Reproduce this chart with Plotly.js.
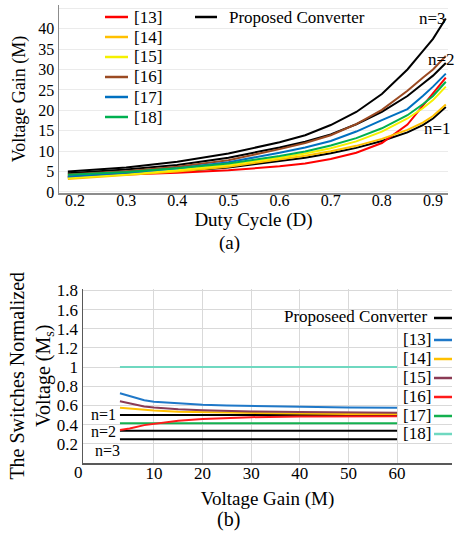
<!DOCTYPE html>
<html>
<head>
<meta charset="utf-8">
<script src="https://cdn.plot.ly/plotly-3.0.1.min.js"></script>
<style>html,body{margin:0;padding:0;background:#fff;}#chart{width:460px;height:543px;}</style>
</head>
<body>
<div id="chart"></div>
<script>
// ---------- (a) Voltage gain vs duty cycle ----------
const duty = [0.186, 0.3, 0.4, 0.5, 0.6, 0.65, 0.7, 0.75, 0.8, 0.85, 0.88, 0.9, 0.925];
const gainN3 = [5.0, 6.0, 7.4, 9.4, 12.2, 13.9, 16.4, 19.6, 24.0, 30.0, 34.5, 37.5, 42.5];
const gainN2 = [4.6, 5.5, 6.6, 8.4, 10.9, 12.3, 14.1, 16.6, 19.6, 23.5, 26.5, 28.5, 31.6];
const gainN1 = [3.6, 4.3, 5.0, 6.0, 7.5, 8.4, 9.5, 10.8, 12.5, 14.6, 16.4, 18.0, 20.8];
const gain13 = [3.8, 4.2, 4.7, 5.3, 6.3, 7.0, 8.1, 9.6, 12.0, 16.5, 21.0, 24.0, 28.0];
const gain14 = [3.2, 4.1, 5.0, 6.2, 8.0, 8.9, 10.0, 11.3, 13.0, 15.2, 17.0, 18.6, 21.4];
const gain15 = [3.4, 4.3, 5.3, 6.6, 8.4, 9.4, 10.7, 12.4, 14.8, 18.0, 20.5, 22.5, 25.8];
const gain16 = [4.3, 5.1, 6.2, 7.8, 10.5, 12.0, 13.9, 16.6, 20.1, 24.8, 28.0, 30.0, 33.3];
const gain17 = [3.8, 4.7, 5.8, 7.3, 9.6, 10.9, 12.5, 14.8, 17.6, 20.3, 23.5, 25.8, 29.0];
const gain18 = [4.2, 4.9, 5.8, 7.0, 8.8, 9.9, 11.4, 13.2, 15.6, 18.8, 21.5, 23.5, 27.0];
const dutyTicks = [0.2, 0.3, 0.4, 0.5, 0.6, 0.7, 0.8, 0.9];
const dutyTickText = ['0.2', '0.3', '0.4', '0.5', '0.6', '0.7', '0.8', '0.9'];
const gainTicks = [0, 5, 10, 15, 20, 25, 30, 35, 40, 45];
const gainTickText = ['0', '5', '10', '15', '20', '25', '30', '35', '40', '90'];

// ---------- (b) Normalized switch voltage vs voltage gain ----------
const gainM = [3, 5, 8, 10, 15, 20, 25, 30, 40, 50, 60];
const ms13 = [0.727, 0.70, 0.655, 0.64, 0.62, 0.608, 0.60, 0.595, 0.588, 0.58, 0.577];
const ms14 = [0.577, 0.567, 0.553, 0.547, 0.535, 0.53, 0.525, 0.52, 0.515, 0.512, 0.51];
const ms15 = [0.645, 0.62, 0.59, 0.578, 0.56, 0.55, 0.542, 0.537, 0.532, 0.528, 0.525];
const ms16 = [0.344, 0.36, 0.395, 0.41, 0.44, 0.458, 0.47, 0.478, 0.484, 0.487, 0.488];
const ms17 = [0.414, 0.414, 0.414, 0.414, 0.414, 0.414, 0.414, 0.414, 0.414, 0.414, 0.414];
const ms18 = [1, 1, 1, 1, 1, 1, 1, 1, 1, 1, 1];
const msN1 = [0.5, 0.5, 0.5, 0.5, 0.5, 0.5, 0.5, 0.5, 0.5, 0.5, 0.5];
const msN2 = [0.337, 0.337, 0.337, 0.337, 0.337, 0.337, 0.337, 0.337, 0.337, 0.337, 0.337];
const msN3 = [0.247, 0.247, 0.247, 0.247, 0.247, 0.247, 0.247, 0.247, 0.247, 0.247, 0.247];
const mTicks = [10, 20, 30, 40, 50, 60];
const msTicks = [0.2, 0.4, 0.6, 0.8, 1.0, 1.2, 1.4, 1.6, 1.8];
const msTickText = ['0.2', '0.4', '0.6', '0.8', '1', '1.2', '1.4', '1.6', '1.8'];

const W = 460, H = 543;
const px = x => x / W;
const py = y => 1 - y / H;
const serif = 'Liberation Serif';
const F = (size) => ({family: serif, size: size, color: '#000'});

const C = {r13:'#ff0000', o14:'#ffc000', y15:'#f5f000', b16:'#9b4a22', bl17:'#0070c0', g18:'#00b050'};
const CB = {c13:'#1f78c8', c14:'#ffc000', c15:'#8b3b55', c16:'#ff1a1a', c17:'#13b04f', c18:'#6fd8c0'};

function line(x, y, color, name, opts) {
  return Object.assign({type:'scatter', mode:'lines', x:x, y:y, name:name,
    line:{color:color, width:2}, hoverinfo:'skip', showlegend:false}, opts || {});
}

const traces = [
  line(duty, gainN1, '#000', 'n=1'),
  line(duty, gainN2, '#000', 'n=2'),
  line(duty, gainN3, '#000', 'Proposed Converter'),
  line(duty, gain13, C.r13, '[13]'),
  line(duty, gain14, C.o14, '[14]'),
  line(duty, gain15, C.y15, '[15]'),
  line(duty, gain16, C.b16, '[16]'),
  line(duty, gain17, C.bl17, '[17]'),
  line(duty, gain18, C.g18, '[18]'),
  // (b)
  line(gainM, msN1, '#000', 'n=1 (b)', {xaxis:'x2', yaxis:'y2'}),
  line(gainM, msN2, '#000', 'n=2 (b)', {xaxis:'x2', yaxis:'y2'}),
  line(gainM, msN3, '#000', 'n=3 (b)', {xaxis:'x2', yaxis:'y2'}),
  line(gainM, ms18, CB.c18, '[18] (b)', {xaxis:'x2', yaxis:'y2'}),
  line(gainM, ms17, CB.c17, '[17] (b)', {xaxis:'x2', yaxis:'y2'}),
  line(gainM, ms16, CB.c16, '[16] (b)', {xaxis:'x2', yaxis:'y2'}),
  line(gainM, ms14, CB.c14, '[14] (b)', {xaxis:'x2', yaxis:'y2'}),
  line(gainM, ms15, CB.c15, '[15] (b)', {xaxis:'x2', yaxis:'y2'}),
  line(gainM, ms13, CB.c13, '[13] (b)', {xaxis:'x2', yaxis:'y2'})
];

const annotations = [];
const shapes = [];
function label(text, x, y, size, anchor) {
  annotations.push({text:text, x:px(x), y:py(y), xref:'paper', yref:'paper', showarrow:false,
    xanchor:anchor || 'center', yanchor:'middle', font:F(size)});
}
function sample(x0, x1, y, color) {
  shapes.push({type:'line', xref:'paper', yref:'paper', x0:px(x0), x1:px(x1), y0:py(y), y1:py(y),
    line:{color:color, width:2.5}});
}

// legend (a): line sample then text
const legA = [['[13]', C.r13], ['[14]', C.o14], ['[15]', C.y15], ['[16]', C.b16], ['[17]', C.bl17], ['[18]', C.g18]];
legA.forEach(([t, c], i) => {
  const y = 17 + 20 * i;
  sample(105, 128, y, c);
  label(t, 132, y, 17, 'left');
});
sample(195, 217, 17, '#000');
label('Proposed Converter', 227, 17, 17, 'left');

// legend (b): text then line sample
const legB = [
  ['Proposeed Converter', '#000', 316, 318, 429],
  ['[13]', CB.c13, 339, 340, 433],
  ['[14]', CB.c14, 358, 359, 433],
  ['[15]', CB.c15, 377, 378, 433],
  ['[16]', CB.c16, 396, 397, 433],
  ['[17]', CB.c17, 415, 416, 433],
  ['[18]', CB.c18, 433, 434, 433]
];
legB.forEach(([t, c, ty, ly, xr]) => {
  label(t, xr, ty, 17, 'right');
  sample(434, 452, ly, c);
});

label('n=3', 432, 18, 17);
label('n=2', 441, 60, 17);
label('n=1', 437, 128, 17);
label('n=1', 103, 414, 16);
label('n=2', 103, 431, 16);
label('n=3', 107, 450, 16);
label('0', 78, 472, 17);
label('(a)', 229, 243, 19);
label('(b)', 228, 519, 20);

const layout = {
  width:W, height:H, margin:{l:0, r:0, t:0, b:0},
  paper_bgcolor:'#fff', plot_bgcolor:'#fff',
  font:F(16),
  showlegend:false,
  xaxis:{domain:[px(59), px(448)], anchor:'y', range:[0.1687, 0.9293],
    tickvals:dutyTicks, ticktext:dutyTickText, showgrid:false, zeroline:false,
    showline:true, linecolor:'#8c8c8c', linewidth:1.5, ticks:'', tickfont:F(16), ticklabelstandoff:-8,
    title:{text:'Duty Cycle (D)', font:F(19), standoff:0}},
  yaxis:{domain:[py(193), py(5)], anchor:'x', range:[-0.25, 45.8],
    tickvals:gainTicks, ticktext:gainTickText, showgrid:true, gridcolor:'#ebebeb', zeroline:false,
    showline:true, linecolor:'#8c8c8c', linewidth:1.5, ticks:'', tickfont:F(16),
    title:{text:'Voltage Gain (M)', font:F(18), standoff:8}},
  xaxis2:{domain:[px(83), px(452)], anchor:'y2', range:[-4.6, 71.3],
    tickvals:mTicks, showgrid:true, gridcolor:'#d9d9d9', zeroline:false,
    showline:true, linecolor:'#595959', linewidth:1.5, ticks:'', tickfont:F(17), ticklabelstandoff:-6,
    title:{text:'Voltage Gain (M)', font:F(19), standoff:10}},
  yaxis2:{domain:[py(463), py(288.5)], anchor:'x2', range:[0, 1.82],
    tickvals:msTicks, ticktext:msTickText, showgrid:true, gridcolor:'#d9d9d9', zeroline:false,
    showline:true, linecolor:'#595959', linewidth:1.5, ticks:'', tickfont:F(17),
    title:{text:'The Switches Normalized<br>Voltage (M<sub>s</sub>)', font:F(20), standoff:1}},
  annotations:annotations,
  shapes:shapes
};

Plotly.newPlot('chart', traces, layout, {displayModeBar:false, staticPlot:true});
</script>
</body>
</html>
